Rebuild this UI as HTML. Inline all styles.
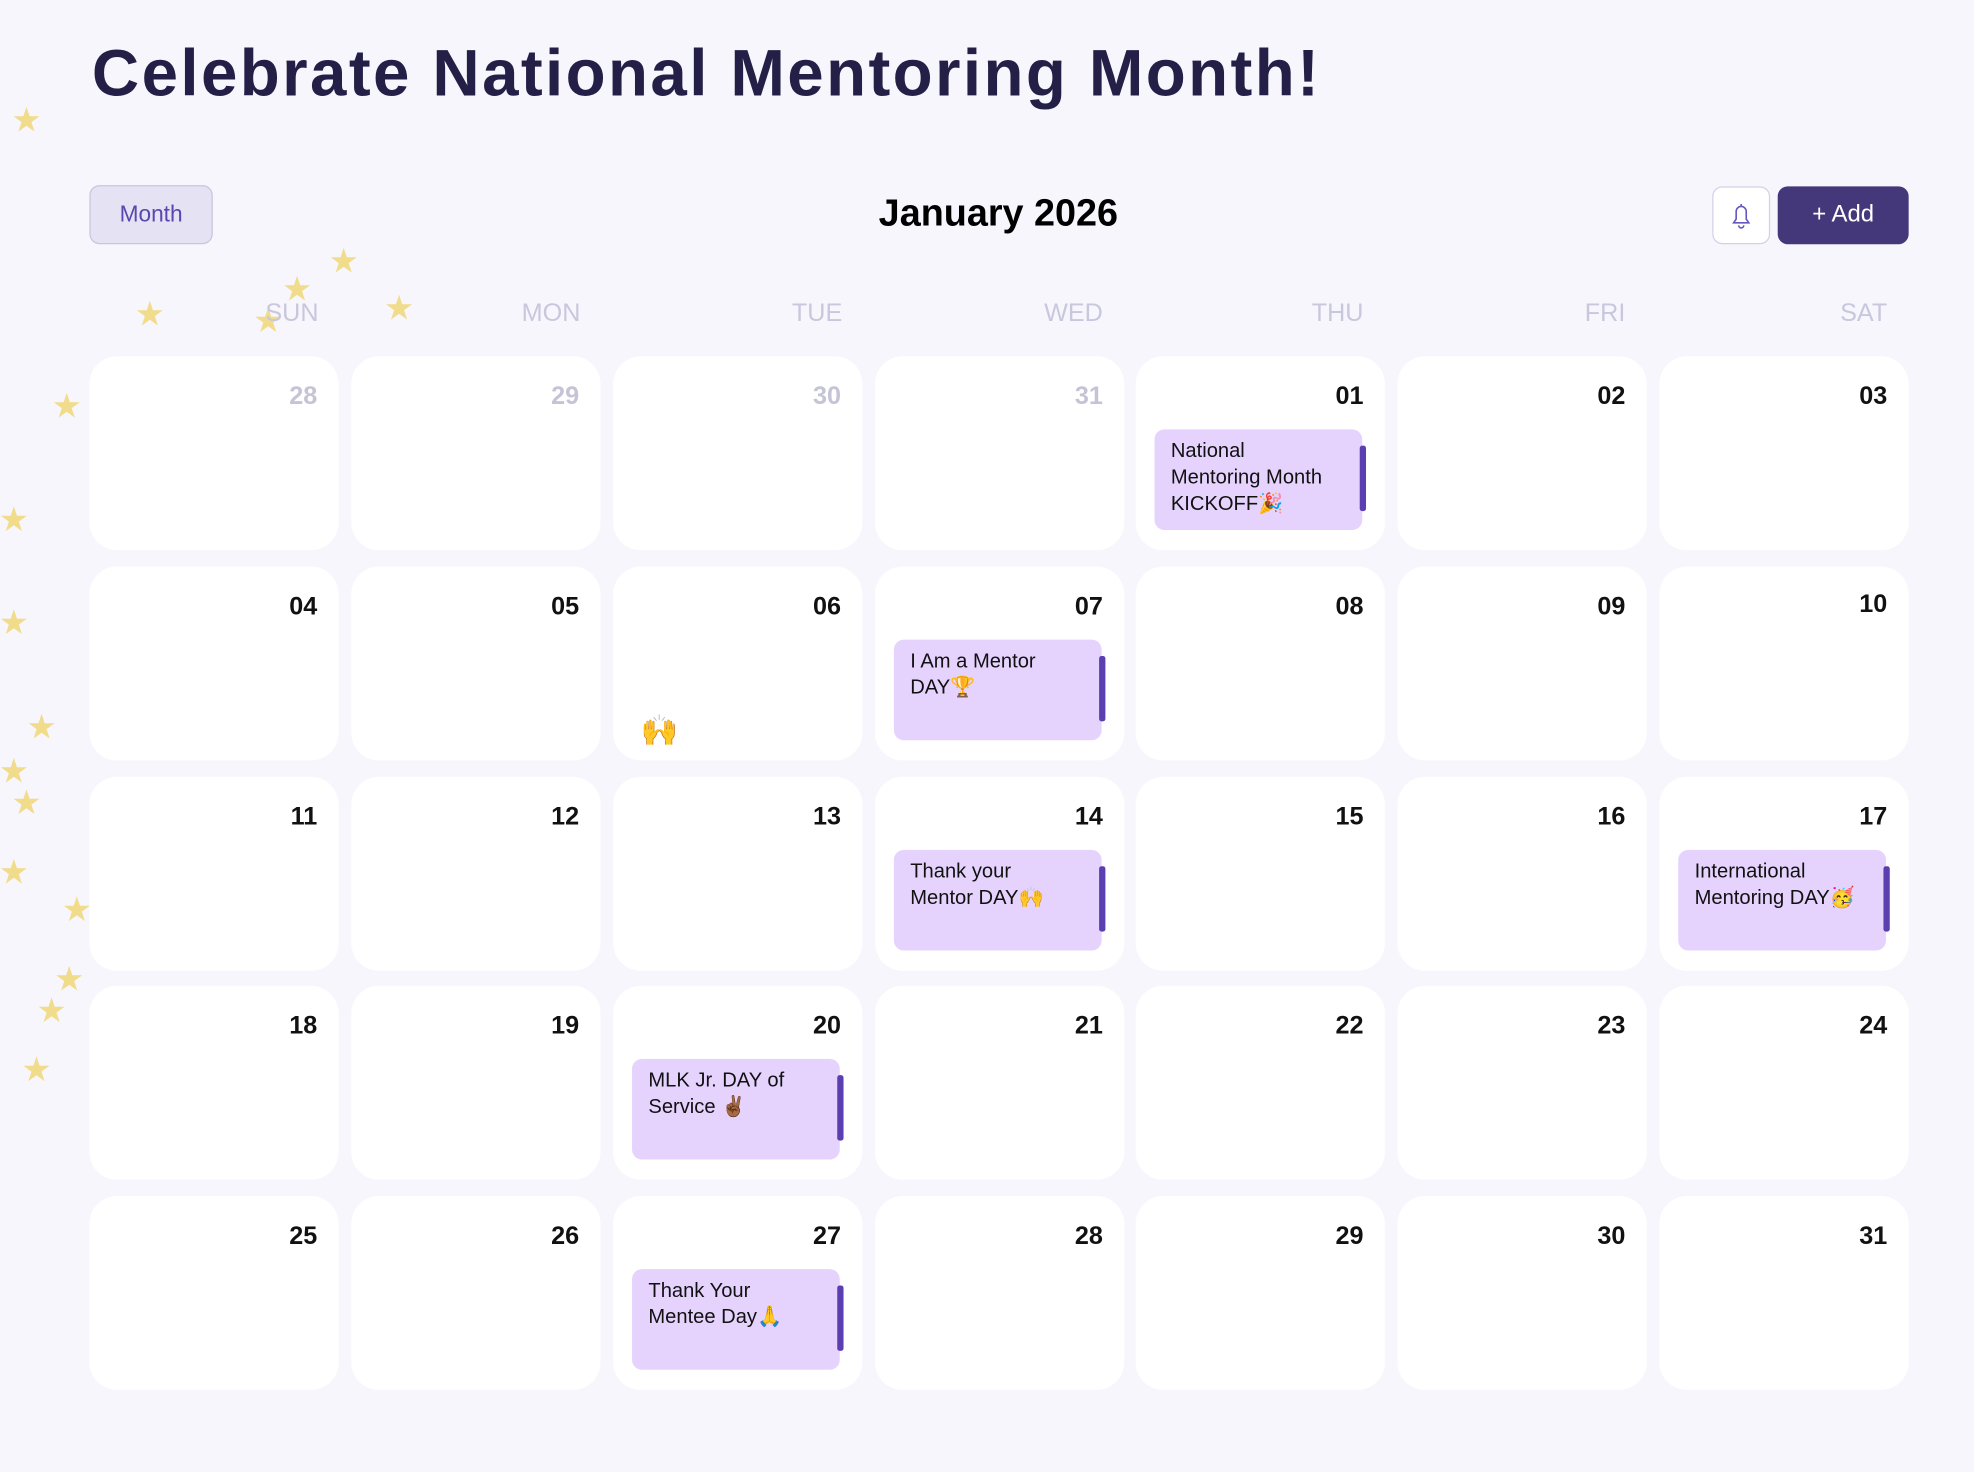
<!DOCTYPE html>
<html><head><meta charset="utf-8"><style>
html,body{margin:0;padding:0;background:#f7f6fc;width:1974px;height:1472px;overflow:hidden}
#w{position:absolute;left:0;top:0;width:1568px;height:1169px;transform:scale(1.259);transform-origin:0 0;font-family:"Liberation Sans","Noto Sans CJK JP",sans-serif}
.t{position:absolute;left:73px;top:29px;font-size:52px;font-weight:bold;color:#241f47;letter-spacing:1.9px;white-space:nowrap}
.mb{position:absolute;left:71px;top:147px;width:96px;height:45px;background:#e4e2f3;border:1px solid #c8c5e0;border-radius:8px;color:#5a46b0;font-size:18px;line-height:45px;text-align:center}
.mt{position:absolute;left:593px;width:400px;top:153px;text-align:center;font-size:30px;font-weight:bold;color:#000}
.bell{position:absolute;left:1360px;top:148px;width:44px;height:44px;background:#fff;border:1px solid #d4d1e6;border-radius:8px}
.add{position:absolute;left:1412px;top:148px;width:104px;height:46px;background:#45387a;border-radius:8px;color:#fff;font-size:19px;line-height:46px;text-align:center}
.h{position:absolute;top:238px;width:198px;text-align:right;color:#c9c7dc;font-size:20px}
.c{position:absolute;width:198px;height:154px;background:#fff;border-radius:22px}
.n{position:absolute;right:17px;top:21px;font-size:20px;font-weight:bold;color:#111}
.g{color:#c5c3d6}
.e{position:absolute;left:15px;top:58px;width:139px;height:66px;padding:7px 13px;background:#e5d3fd;border-radius:8px;font-size:16px;line-height:21px;color:#111}
.e span{display:block;width:128px}
.e:after{content:"";position:absolute;right:-3px;top:13px;width:5px;height:52px;background:#5b3fb0;border-radius:2px}
.s{position:absolute;color:#f0d878;font-size:22px;opacity:.85}
</style></head><body><div id="w">
<div class="s" style="left:10px;top:78px">★</div>
<div class="s" style="left:262px;top:190px">★</div>
<div class="s" style="left:225px;top:212px">★</div>
<div class="s" style="left:108px;top:232px">★</div>
<div class="s" style="left:306px;top:227px">★</div>
<div class="s" style="left:202px;top:237px">★</div>
<div class="s" style="left:42px;top:305px">★</div>
<div class="s" style="left:0px;top:395px">★</div>
<div class="s" style="left:0px;top:477px">★</div>
<div class="s" style="left:22px;top:560px">★</div>
<div class="s" style="left:0px;top:595px">★</div>
<div class="s" style="left:10px;top:620px">★</div>
<div class="s" style="left:0px;top:675px">★</div>
<div class="s" style="left:50px;top:705px">★</div>
<div class="s" style="left:44px;top:760px">★</div>
<div class="s" style="left:30px;top:785px">★</div>
<div class="s" style="left:18px;top:832px">★</div>
<div class="t">Celebrate National Mentoring Month!</div>
<div class="mb">Month</div>
<div class="mt">January 2026</div>
<div class="bell"><svg width="44" height="44" viewBox="0 0 44 44"><path d="M16 28h12l-2-3v-6a4 4 0 0 0-8 0v6z M20 30a2 2 0 0 0 4 0 M22 13v2" fill="none" stroke="#6a56c0" stroke-width="1.3"/></svg></div>
<div class="add">+ Add</div>
<div class="h" style="left:55px">SUN</div><div class="h" style="left:263px">MON</div><div class="h" style="left:471px">TUE</div><div class="h" style="left:678px">WED</div><div class="h" style="left:885px">THU</div><div class="h" style="left:1093px">FRI</div><div class="h" style="left:1301px">SAT</div>

<div class="c" style="left:71px;top:283px"><div class="n g">28</div></div>
<div class="c" style="left:279px;top:283px"><div class="n g">29</div></div>
<div class="c" style="left:487px;top:283px"><div class="n g">30</div></div>
<div class="c" style="left:695px;top:283px"><div class="n g">31</div></div>
<div class="c" style="left:902px;top:283px"><div class="n">01</div><div class="e"><span>National Mentoring Month KICKOFF🎉</span></div></div>
<div class="c" style="left:1110px;top:283px"><div class="n">02</div></div>
<div class="c" style="left:1318px;top:283px"><div class="n">03</div></div>

<div class="c" style="left:71px;top:450px"><div class="n">04</div></div>
<div class="c" style="left:279px;top:450px"><div class="n">05</div></div>
<div class="c" style="left:487px;top:450px"><div class="n">06</div><div style="position:absolute;left:22px;top:116px;font-size:24px;color:#f4c430">🙌</div></div>
<div class="c" style="left:695px;top:450px"><div class="n">07</div><div class="e"><span>I Am a Mentor DAY🏆</span></div></div>
<div class="c" style="left:902px;top:450px"><div class="n">08</div></div>
<div class="c" style="left:1110px;top:450px"><div class="n">09</div></div>
<div class="c" style="left:1318px;top:450px"><div class="n" style="top:19px">10</div></div>

<div class="c" style="left:71px;top:617px"><div class="n">11</div></div>
<div class="c" style="left:279px;top:617px"><div class="n">12</div></div>
<div class="c" style="left:487px;top:617px"><div class="n">13</div></div>
<div class="c" style="left:695px;top:617px"><div class="n">14</div><div class="e"><span>Thank your Mentor DAY🙌</span></div></div>
<div class="c" style="left:902px;top:617px"><div class="n">15</div></div>
<div class="c" style="left:1110px;top:617px"><div class="n">16</div></div>
<div class="c" style="left:1318px;top:617px"><div class="n">17</div><div class="e"><span>International Mentoring DAY🥳</span></div></div>

<div class="c" style="left:71px;top:783px"><div class="n">18</div></div>
<div class="c" style="left:279px;top:783px"><div class="n">19</div></div>
<div class="c" style="left:487px;top:783px"><div class="n">20</div><div class="e"><span>MLK Jr. DAY of Service ✌🏾</span></div></div>
<div class="c" style="left:695px;top:783px"><div class="n">21</div></div>
<div class="c" style="left:902px;top:783px"><div class="n">22</div></div>
<div class="c" style="left:1110px;top:783px"><div class="n">23</div></div>
<div class="c" style="left:1318px;top:783px"><div class="n">24</div></div>

<div class="c" style="left:71px;top:950px"><div class="n">25</div></div>
<div class="c" style="left:279px;top:950px"><div class="n">26</div></div>
<div class="c" style="left:487px;top:950px"><div class="n">27</div><div class="e"><span>Thank Your Mentee Day🙏</span></div></div>
<div class="c" style="left:695px;top:950px"><div class="n">28</div></div>
<div class="c" style="left:902px;top:950px"><div class="n">29</div></div>
<div class="c" style="left:1110px;top:950px"><div class="n">30</div></div>
<div class="c" style="left:1318px;top:950px"><div class="n">31</div></div>
</div></body></html>
